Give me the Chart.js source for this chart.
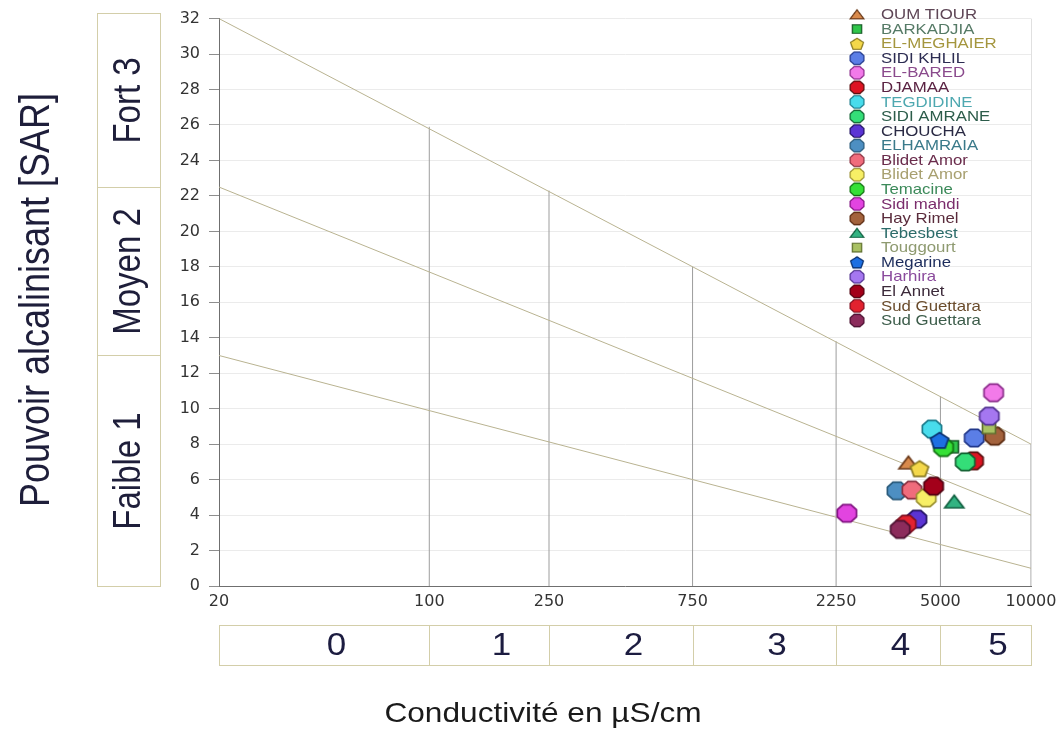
<!DOCTYPE html>
<html>
<head>
<meta charset="utf-8">
<script src="https://cdn.jsdelivr.net/npm/chart.js@4.4.1/dist/chart.umd.min.js"></script>
<style>
  html, body { margin: 0; padding: 0; background: #fff; }
  #wrap { width: 1064px; height: 731px; position: relative; }
</style>
</head>
<body>
<div id="wrap"><canvas id="richards"></canvas></div>
<script>
// Sampling stations with their electrical conductivity (µS/cm) and SAR
const stations = [
  'OUM TIOUR', 'BARKADJIA', 'EL-MEGHAIER', 'SIDI KHLIL', 'EL-BARED', 'DJAMAA',
  'TEGDIDINE', 'SIDI AMRANE', 'CHOUCHA', 'ELHAMRAIA', 'Blidet Amor', 'Blidet Amor',
  'Temacine', 'Sidi mahdi', 'Hay Rimel', 'Tebesbest', 'Touggourt', 'Megarine',
  'Harhira', 'El Annet', 'Sud Guettara', 'Sud Guettara'
];
const conductivity = [
  3915, 5460, 4260, 6475, 7510, 6440,
  4685, 6045, 4175, 3585, 4020, 4485,
  5120, 2443, 7570, 5560, 7250, 4965,
  7265, 4745, 3848, 3675
];
const sar = [
  6.95, 7.85, 6.63, 8.35, 10.9, 7.06,
  8.85, 7.0, 3.77, 5.37, 5.41, 4.97,
  7.81, 4.1, 8.45, 4.75, 8.94, 8.23,
  9.58, 5.63, 3.49, 3.19
];

// Axis ticks
const ecTicks = [20, 100, 250, 750, 2250, 5000, 10000];
const sarMin = 0, sarMax = 32, sarStep = 2;

// Salinity classes (conductivity limits) and the height of each limit line
const ecClassEdges = [100, 250, 750, 2250, 5000, 10000];
const ecClassTops = [25.9, 22.3, 18.0, 13.8, 10.7, 8];
const ecClassLabels = ['0', '1', '2', '3', '4', '5'];

// Alkalinity hazard boundaries: SAR at 20 µS/cm and at 10000 µS/cm
const sarLineEcRange = [20, 10000];
const sarLineLeft = [32, 22.5, 13];
const sarLineRight = [8, 4, 1];
const sarClassNames = ['Faible 1', 'Moyen 2', 'Fort 3'];
const sarClassBounds = [0, 13, 22.5, 32.3];

// Marker styling
const shapes = ['tri','sq','pent','oct','oct','oct','oct','oct','oct','oct','oct',
                'oct','oct','oct','oct','tri','sq','pent','oct','oct','oct','oct'];
const fills = ['#d98a4c','#2fc64a','#f4d84a','#5b7ee6','#f27ae9','#dd1422',
               '#48dcec','#34de78','#5b34d4','#4d8fc2','#f06c7c','#f7ef66',
               '#36e036','#e244e0','#a3623c','#33b382','#a9c163','#1d6fe2',
               '#a577f0','#a3001a','#e2222f','#8c2c5c'];
const strokes = ['#6b3a1a','#1a5a2a','#8a7a20','#22388a','#8a2a8a','#5a1010',
                 '#1a7a8a','#106030','#201060','#2a5a7a','#8a3040','#9a9030',
                 '#107010','#801080','#5a2a10','#106040','#607030','#0a3070',
                 '#503090','#500010','#801020','#4a1030'];
const textColors = ['#5e4656','#557a66','#a4963e','#2c2c52','#8a4a8c','#5a2242',
                    '#4ea8b0','#2c5c4a','#2a2a44','#3a7a8a','#6a2c4c','#a8a070',
                    '#3c8a5a','#7a2c6c','#5a2c3c','#2c6c6a','#8e9a70','#1c2c5c',
                    '#8a4a9c','#3c2a3a','#6a4c2c','#3c5c4a'];

function makeMarker(shape, fill, stroke) {
  const cv = document.createElement('canvas');
  cv.width = 24; cv.height = 24;
  const g = cv.getContext('2d');
  const c = 12;
  g.beginPath();
  if (shape === 'oct') {
    for (let k = 0; k < 8; k++) {
      const a = Math.PI / 8 + k * Math.PI / 4;
      g.lineTo(c + 10.4 * Math.cos(a), c + 9.4 * Math.sin(a));
    }
  } else if (shape === 'pent') {
    for (let k = 0; k < 5; k++) {
      const a = -Math.PI / 2 + k * 2 * Math.PI / 5;
      g.lineTo(c + 9.5 * Math.cos(a), c + 1 + 8.5 * Math.sin(a));
    }
  } else if (shape === 'tri') {
    g.moveTo(c, c - 6.5);
    g.lineTo(c + 9.5, c + 6);
    g.lineTo(c - 9.5, c + 6);
  } else {
    g.rect(c - 6.5, c - 6, 13, 12);
  }
  g.closePath();
  g.fillStyle = fill;
  g.fill();
  g.lineWidth = 1.7;
  g.strokeStyle = stroke;
  g.stroke();
  return cv;
}
const markers = stations.map((_, i) => makeMarker(shapes[i], fills[i], strokes[i]));

const FONT = '"Liberation Sans", Arial, sans-serif';
function drawText(ctx, txt, x, y, px, color, angle, align, stretch) {
  ctx.save();
  ctx.translate(x, y);
  ctx.scale(stretch || 1.13, 1);
  ctx.rotate(angle || 0);
  ctx.font = px + 'px ' + FONT;
  ctx.fillStyle = color;
  ctx.textAlign = align || 'center';
  ctx.textBaseline = 'middle';
  ctx.fillText(txt, 0, 0);
  ctx.restore();
}

const datasets = [];
// station points (later stations drawn above earlier ones)
stations.forEach((name, i) => {
  datasets.push({
    label: name,
    data: [{ x: conductivity[i], y: sar[i] }],
    pointStyle: markers[i],
    pointRadius: 10,
    order: stations.length - i
  });
});
// alkalinity boundary lines
sarLineLeft.forEach((v, i) => {
  datasets.push({
    label: 'sar-limit-' + i,
    data: [{ x: sarLineEcRange[0], y: v }, { x: sarLineEcRange[1], y: sarLineRight[i] }],
    showLine: true, pointRadius: 0, borderColor: '#b9b391', borderWidth: 1, order: 100
  });
});
// salinity class limits
ecClassEdges.forEach((v, i) => {
  datasets.push({
    label: 'ec-limit-' + i,
    data: [{ x: v, y: 0 }, { x: v, y: ecClassTops[i] }],
    showLine: true, pointRadius: 0, borderColor: '#9d9d9d', borderWidth: 1, order: 100
  });
});

const decorations = {
  id: 'decorations',
  afterDraw(chart) {
    const ctx = chart.ctx;
    const xs = chart.scales.x, ys = chart.scales.y;
    const area = chart.chartArea;

    // faint right frame
    ctx.save();
    ctx.strokeStyle = '#e0e0e0';
    ctx.lineWidth = 1;
    ctx.beginPath();
    ctx.moveTo(Math.round(area.right) + 0.5, area.top);
    ctx.lineTo(Math.round(area.right) + 0.5, area.bottom);
    ctx.stroke();
    ctx.restore();

    // y axis title
    drawText(ctx, 'Pouvoir alcalinisant [SAR]', 37, 300, 36, '#1e1e3a', -Math.PI / 2, 'center', 1.2);

    // alkalinity class boxes
    const bx0 = 97.5, bx1 = 160.5;
    ctx.save();
    ctx.strokeStyle = '#d3cea9';
    ctx.lineWidth = 1;
    for (let i = 0; i < sarClassNames.length; i++) {
      const yTop = Math.round(ys.getPixelForValue(sarClassBounds[i + 1])) + 0.5;
      const yBot = Math.round(ys.getPixelForValue(sarClassBounds[i])) + 0.5;
      ctx.strokeRect(bx0, yTop, bx1 - bx0, yBot - yTop);
      drawText(ctx, sarClassNames[i], (bx0 + bx1) / 2 + 1, (yTop + yBot) / 2, 33, '#1e1e3a', -Math.PI / 2, 'center', 1.15);
    }
    ctx.restore();

    // salinity class boxes
    const top = 625.5, bot = 665.5;
    const edges = [ecTicks[0]].concat(ecClassEdges);
    ctx.save();
    ctx.strokeStyle = '#d3cea9';
    ctx.lineWidth = 1;
    for (let i = 0; i < ecClassLabels.length; i++) {
      const l = Math.round(xs.getPixelForValue(edges[i])) + 0.5;
      const r = Math.round(xs.getPixelForValue(edges[i + 1])) + 0.5;
      ctx.strokeRect(l, top, r - l, bot - top);
      drawText(ctx, ecClassLabels[i], (l + r) / 2 + 12, (top + bot) / 2 + 1, 31, '#1c1c40');
    }
    ctx.restore();

    // x axis title
    drawText(ctx, 'Conductivité en µS/cm', 543, 714, 28, '#1a1a1a');

    // legend
    const lx = 857, tx = 881, ly0 = 14.5, dy = 14.57;
    stations.forEach((name, i) => {
      const y = ly0 + i * dy;
      const m = markers[i];
      const s = 0.72;
      ctx.drawImage(m, lx - m.width * s / 2, y - m.height * s / 2, m.width * s, m.height * s);
      drawText(ctx, name, tx, y + 0.5, 15, textColors[i], 0, 'left', 1.12);
    });
  }
};

new Chart(document.getElementById('richards'), {
  type: 'scatter',
  data: { datasets },
  options: {
    responsive: true,
    maintainAspectRatio: false,
    animation: false,
    events: [],
    layout: { padding: { left: 159, right: 33, top: 18, bottom: 115 } },
    plugins: { legend: { display: false }, tooltip: { enabled: false } },
    scales: {
      x: {
        type: 'logarithmic',
        min: ecTicks[0],
        max: ecTicks[ecTicks.length - 1],
        afterBuildTicks: (s) => { s.ticks = ecTicks.map(v => ({ value: v })); },
        afterFit: (s) => { s.height = 30; },
        grid: { display: false, drawTicks: false },
        border: { display: true, color: '#6f6f6f', width: 1 },
        ticks: {
          autoSkip: false, maxRotation: 0, padding: 6,
          color: '#333', font: { family: '"DejaVu Sans"', size: 16 },
          callback: (v) => String(v)
        }
      },
      y: {
        min: sarMin, max: sarMax,
        afterFit: (s) => { s.width = 60; },
        grid: { color: '#ebebeb', tickColor: '#8e8e8e', tickLength: 10, lineWidth: 1 },
        border: { display: true, color: '#6f6f6f', width: 1 },
        ticks: {
          stepSize: sarStep, padding: 9,
          color: '#333', font: { family: '"DejaVu Sans"', size: 16 },
          callback: (v) => String(v)
        }
      }
    }
  },
  plugins: [decorations]
});
</script>
</body>
</html>
